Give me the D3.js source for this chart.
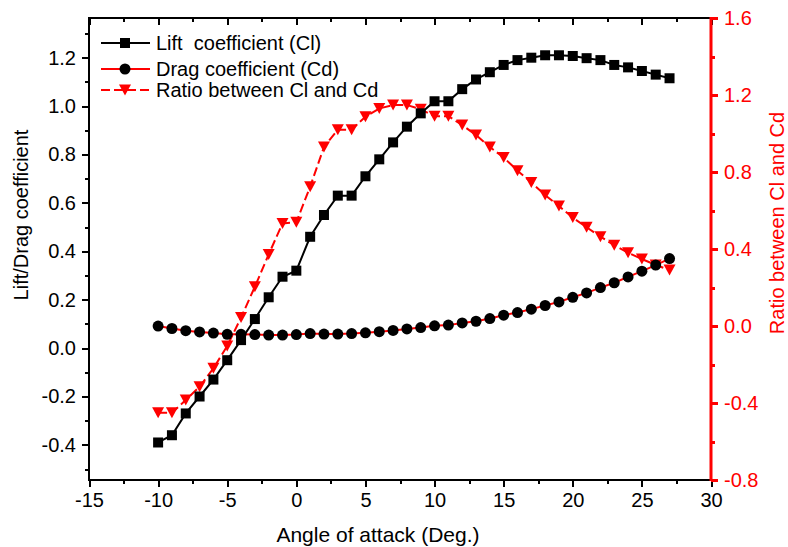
<!DOCTYPE html>
<html>
<head>
<meta charset="utf-8">
<script src="https://cdn.jsdelivr.net/npm/d3@7"></script>
<style>
  body { margin: 0; background: #fff; }
  svg text { font-family: "Liberation Sans", Arial, sans-serif; }
  .axis path, .axis line { shape-rendering: crispEdges; }
</style>
</head>
<body>
<svg id="chart" width="788" height="547"></svg>
<script>
// angle of attack, -10 .. 27 deg
const angles = [-10, -9, -8, -7, -6, -5, -4, -3, -2, -1, 0, 1, 2, 3, 4, 5, 6, 7, 8,
  9, 10, 11, 12, 13, 14, 15, 16, 17, 18, 19, 20, 21, 22, 23, 24, 25, 26, 27];
const lift = [-0.39, -0.36, -0.27, -0.20, -0.13, -0.05, 0.033, 0.12, 0.21, 0.295,
  0.32, 0.46, 0.55, 0.63, 0.63, 0.71, 0.78, 0.85, 0.915, 0.97, 1.02, 1.02, 1.07,
  1.11, 1.14, 1.17, 1.19, 1.20, 1.21, 1.21, 1.207, 1.198, 1.19, 1.17, 1.16, 1.145,
  1.13, 1.115];
const drag = [0.091, 0.081, 0.072, 0.067, 0.062, 0.057, 0.057, 0.056, 0.054, 0.054,
  0.056, 0.06, 0.058, 0.058, 0.06, 0.063, 0.068, 0.073, 0.079, 0.085, 0.092, 0.095,
  0.104, 0.111, 0.122, 0.136, 0.147, 0.161, 0.176, 0.191, 0.21, 0.228, 0.25, 0.27,
  0.294, 0.318, 0.343, 0.37];
const ratio = [-0.45, -0.45, -0.385, -0.315, -0.22, -0.104, 0.044, 0.204, 0.372,
  0.533, 0.539, 0.724, 0.93, 1.02, 1.02, 1.087, 1.13, 1.148, 1.148, 1.126, 1.09,
  1.09, 1.044, 0.992, 0.93, 0.875, 0.807, 0.746, 0.68, 0.623, 0.563, 0.513, 0.464,
  0.42, 0.381, 0.348, 0.317, 0.291];

const xTicks = [-15, -10, -5, 0, 5, 10, 15, 20, 25, 30];
const xMinor = [-12.5, -7.5, -2.5, 2.5, 7.5, 12.5, 17.5, 22.5, 27.5];
const leftTicks = [-0.4, -0.2, 0, 0.2, 0.4, 0.6, 0.8, 1.0, 1.2];
const leftMinor = [-0.5, -0.3, -0.1, 0.1, 0.3, 0.5, 0.7, 0.9, 1.1, 1.3];
const rightTicks = [-0.8, -0.4, 0, 0.4, 0.8, 1.2, 1.6];
const rightMinor = [-0.6, -0.2, 0.2, 0.6, 1.0, 1.4];

const legendLabels = ["Lift  coefficient (Cl)", "Drag coefficient (Cd)", "Ratio between Cl and Cd"];

const pLeft = 89, pRight = 711, pTop = 18, pBottom = 480;
const red = "#ff0000";

const svg = d3.select("#chart");

const x = d3.scaleLinear().domain([-15, 30]).range([pLeft, pRight]);
const yL = d3.scaleLinear().domain([-0.545, 1.364]).range([pBottom, pTop]);
const yR = d3.scaleLinear().domain([-0.8, 1.6]).range([pBottom, pTop]);

// plain hyphen for negatives, like the original
const fmtInt = d => String(d3.format("d")(d)).replace("\u2212", "-");
const fmt1 = d => String(d3.format(".1f")(d)).replace("\u2212", "-");

function styleAxis(g, color, width, size) {
  g.attr("class", "axis");
  g.select(".domain").remove();
  g.selectAll("line").attr("stroke", color).attr("stroke-width", width);
  g.selectAll("text")
    .attr("fill", color)
    .style("font-size", size + "px");
}

// bottom axis
svg.append("g")
  .attr("transform", "translate(0," + pBottom + ")")
  .call(d3.axisBottom(x).tickValues(xTicks).tickSize(7).tickPadding(6).tickFormat(fmtInt))
  .call(g => styleAxis(g, "#000", 2, 20));
svg.append("g")
  .attr("transform", "translate(0," + pBottom + ")")
  .call(d3.axisBottom(x).tickValues(xMinor).tickSize(4).tickFormat(""))
  .call(g => styleAxis(g, "#000", 2, 20));

// top axis, ticks pointing in
svg.append("g")
  .attr("transform", "translate(0," + pTop + ")")
  .call(d3.axisBottom(x).tickValues(xTicks).tickSize(7).tickFormat(""))
  .call(g => styleAxis(g, "#000", 2, 20));
svg.append("g")
  .attr("transform", "translate(0," + pTop + ")")
  .call(d3.axisBottom(x).tickValues(xMinor).tickSize(4).tickFormat(""))
  .call(g => styleAxis(g, "#000", 2, 20));

// left axis
svg.append("g")
  .attr("transform", "translate(" + pLeft + ",0)")
  .call(d3.axisLeft(yL).tickValues(leftTicks).tickSize(7).tickPadding(6).tickFormat(fmt1))
  .call(g => styleAxis(g, "#000", 2, 20));
svg.append("g")
  .attr("transform", "translate(" + pLeft + ",0)")
  .call(d3.axisLeft(yL).tickValues(leftMinor).tickSize(4).tickFormat(""))
  .call(g => styleAxis(g, "#000", 2, 20));

// right axis (red)
svg.append("g")
  .attr("transform", "translate(" + pRight + ",0)")
  .call(d3.axisRight(yR).tickValues(rightTicks).tickSize(7).tickPadding(6).tickFormat(fmt1))
  .call(g => styleAxis(g, red, 3, 20));
svg.append("g")
  .attr("transform", "translate(" + pRight + ",0)")
  .call(d3.axisRight(yR).tickValues(rightMinor).tickSize(4).tickFormat(""))
  .call(g => styleAxis(g, red, 3, 20));

// frame
svg.append("line").attr("x1", pLeft - 1).attr("x2", pRight).attr("y1", pTop).attr("y2", pTop)
  .attr("stroke", "#000").attr("stroke-width", 2);
svg.append("line").attr("x1", pLeft - 1).attr("x2", pRight).attr("y1", pBottom).attr("y2", pBottom)
  .attr("stroke", "#000").attr("stroke-width", 2);
svg.append("line").attr("x1", pLeft).attr("x2", pLeft).attr("y1", pTop).attr("y2", pBottom + 1)
  .attr("stroke", "#000").attr("stroke-width", 2);
svg.append("line").attr("x1", pRight).attr("x2", pRight).attr("y1", pTop - 1).attr("y2", pBottom + 1)
  .attr("stroke", red).attr("stroke-width", 3);

function downTri(w, h) {
  return "M" + (-w / 2) + "," + (-h / 2) + "L" + (w / 2) + "," + (-h / 2) + "L0," + (h / 2) + "Z";
}

const plot = svg.append("g");

// ratio (right axis)
plot.append("path")
  .datum(angles)
  .attr("fill", "none")
  .attr("stroke", red)
  .attr("stroke-width", 2)
  .attr("stroke-dasharray", "9,4")
  .attr("d", d3.line().x(d => x(d)).y((d, i) => yR(ratio[i])));
plot.selectAll(".tri")
  .data(angles)
  .enter()
  .append("path")
  .attr("class", "tri")
  .attr("d", downTri(12, 11))
  .attr("fill", red)
  .attr("transform", (d, i) => "translate(" + x(d) + "," + yR(ratio[i]) + ")");

// drag
plot.append("path")
  .datum(angles)
  .attr("fill", "none")
  .attr("stroke", red)
  .attr("stroke-width", 2)
  .attr("d", d3.line().x(d => x(d)).y((d, i) => yL(drag[i])));
plot.selectAll(".dot")
  .data(angles)
  .enter()
  .append("circle")
  .attr("class", "dot")
  .attr("cx", d => x(d))
  .attr("cy", (d, i) => yL(drag[i]))
  .attr("r", 5.5)
  .attr("fill", "#000");

// lift
plot.append("path")
  .datum(angles)
  .attr("fill", "none")
  .attr("stroke", "#000")
  .attr("stroke-width", 2)
  .attr("d", d3.line().x(d => x(d)).y((d, i) => yL(lift[i])));
plot.selectAll(".sq")
  .data(angles)
  .enter()
  .append("rect")
  .attr("class", "sq")
  .attr("x", d => x(d) - 5)
  .attr("y", (d, i) => yL(lift[i]) - 5)
  .attr("width", 10)
  .attr("height", 10)
  .attr("fill", "#000");

// legend
const legendY = [43, 69, 90];
const legend = svg.append("g");
legendLabels.forEach(function (label, i) {
  const g = legend.append("g").attr("transform", "translate(0," + legendY[i] + ")");
  const line = g.append("line")
    .attr("x1", 101).attr("x2", 150).attr("y1", 0).attr("y2", 0)
    .attr("stroke", i === 0 ? "#000" : red)
    .attr("stroke-width", 2);
  if (i === 2) line.attr("stroke-dasharray", "9,4");
  const m = g.append("g").attr("transform", "translate(125,0)");
  if (i === 0) {
    m.append("rect").attr("x", -5).attr("y", -5).attr("width", 10).attr("height", 10).attr("fill", "#000");
  } else if (i === 1) {
    m.append("circle").attr("r", 5.5).attr("fill", "#000");
  } else {
    m.append("path").attr("d", downTri(12, 11)).attr("fill", red);
  }
  g.append("text")
    .attr("x", 156)
    .attr("y", 7)
    .style("font-size", "20px")
    .attr("fill", "#000")
    .style("white-space", "pre")
    .text(label);
});

// axis titles
svg.append("text")
  .attr("x", 378).attr("y", 542)
  .attr("text-anchor", "middle")
  .style("font-size", "21px")
  .text("Angle of attack (Deg.)");
svg.append("text")
  .attr("transform", "translate(28,215) rotate(-90)")
  .attr("text-anchor", "middle")
  .style("font-size", "20px")
  .text("Lift/Drag coefficient");
svg.append("text")
  .attr("transform", "translate(784,223) rotate(-90)")
  .attr("text-anchor", "middle")
  .style("font-size", "20px")
  .attr("fill", red)
  .text("Ratio between Cl and Cd");
</script>
</body>
</html>
